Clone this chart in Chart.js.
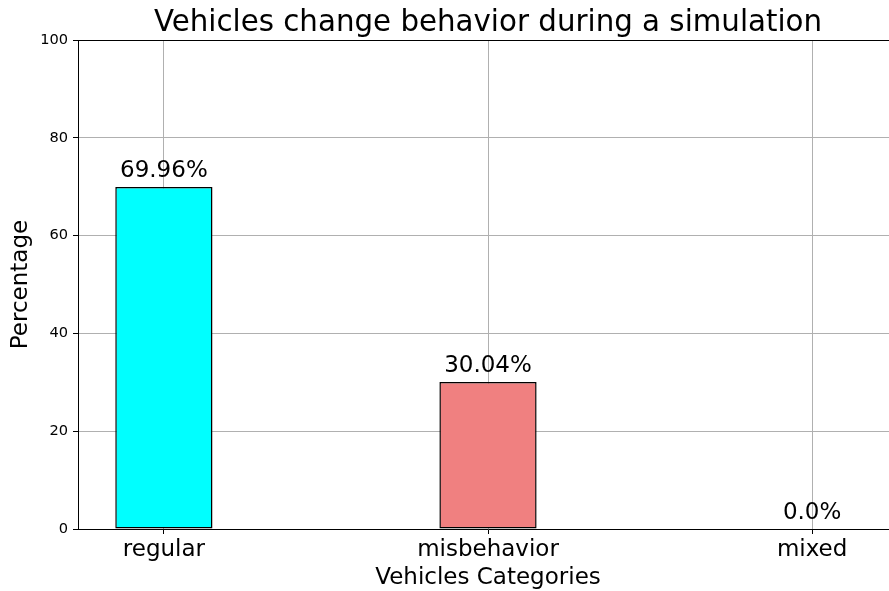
<!DOCTYPE html>
<html>
<head>
<meta charset="utf-8">
<script src="https://cdn.jsdelivr.net/npm/chart.js@4/dist/chart.umd.min.js"></script>
<style>
  html, body { margin: 0; padding: 0; background: #fff; overflow: hidden; }
  #wrap { width: 898px; height: 591px; position: relative; }
</style>
</head>
<body>
<div id="wrap"><canvas id="chart"></canvas></div>
<script>
const categories = ["regular", "misbehavior", "mixed"];
const percentages = [69.96, 30.04, 0.0];
const valueLabels = ["69.96%", "30.04%", "0.0%"];
const barColors = ["#00ffff", "#f08080", "#ffa500"];
const yTicks = [0, 20, 40, 60, 80, 100];
const chartTitle = "Vehicles change behavior during a simulation";

const FONT = "'DejaVu Sans', sans-serif";

// draws the value text over each bar, the title and the top spine
const extras = {
  id: "extras",
  afterDraw(chart) {
    const ctx = chart.ctx;
    const area = chart.chartArea;
    ctx.save();
    ctx.strokeStyle = "#000";
    ctx.lineWidth = 1;
    ctx.beginPath();
    ctx.moveTo(area.left, area.top + 0.5);
    ctx.lineTo(area.right, area.top + 0.5);
    ctx.stroke();

    ctx.fillStyle = "#000";
    ctx.textAlign = "center";
    ctx.textBaseline = "alphabetic";
    ctx.font = "23px " + FONT;
    const meta = chart.getDatasetMeta(0);
    meta.data.forEach((bar, i) => {
      ctx.fillText(valueLabels[i], bar.x, bar.y - 10);
    });

    ctx.font = "29.3px " + FONT;
    ctx.fillText(chartTitle, (area.left + area.right) / 2, 31);
    ctx.restore();
  }
};

new Chart(document.getElementById("chart"), {
  type: "bar",
  data: {
    datasets: [{
      data: percentages.map((v, i) => ({ x: i, y: v })),
      backgroundColor: barColors,
      borderColor: "#000",
      borderWidth: 1.5,
      borderSkipped: false,
      barPercentage: 0.3,
      categoryPercentage: 1.0,
    }],
  },
  options: {
    responsive: true,
    maintainAspectRatio: false,
    animation: false,
    layout: { padding: { top: 40, left: 0, right: 0, bottom: 0 } },
    plugins: {
      legend: { display: false },
      tooltip: { enabled: false },
    },
    scales: {
      x: {
        type: "linear",
        min: -0.265,
        max: 2.265,
        offset: false,
        z: 1,
        afterBuildTicks: (scale) => {
          scale.ticks = categories.map((c, i) => ({ value: i }));
        },
        afterFit: (scale) => { scale.height = 62; },
        ticks: {
          callback: (v) => categories[v],
          color: "#000",
          font: { family: FONT, size: 23 },
          padding: 2,
          maxRotation: 0,
          autoSkip: false,
        },
        grid: {
          offset: false,
          color: "#b0b0b0",
          lineWidth: 1,
          tickLength: 5,
          tickColor: "#000",
        },
        border: { display: true, color: "#000", width: 1 },
        title: {
          display: true,
          text: "Vehicles Categories",
          color: "#000",
          font: { family: FONT, size: 23 },
          padding: { top: 0, bottom: -1 },
        },
      },
      y: {
        min: 0,
        max: 100,
        z: 1,
        afterBuildTicks: (scale) => {
          scale.ticks = yTicks.map(v => ({ value: v }));
        },
        afterFit: (scale) => { scale.width = 78; },
        ticks: {
          color: "#000",
          font: { family: FONT, size: 14.6 },
          padding: 5,
        },
        grid: {
          color: "#b0b0b0",
          lineWidth: 1,
          tickLength: 5,
          tickColor: "#000",
        },
        border: { display: true, color: "#000", width: 1 },
        title: {
          display: true,
          text: "Percentage",
          color: "#000",
          font: { family: FONT, size: 23 },
          padding: { top: 7, bottom: 0 },
        },
      },
    },
  },
  plugins: [extras],
});
</script>
</body>
</html>
